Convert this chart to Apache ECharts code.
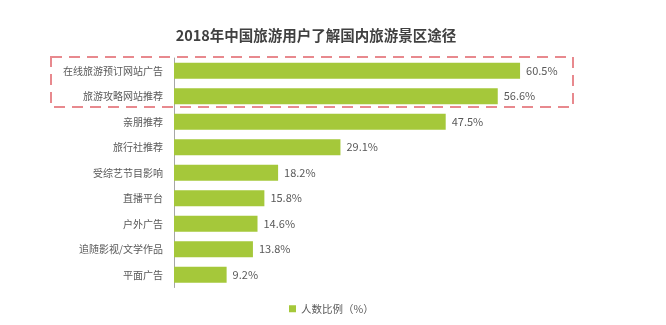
<!DOCTYPE html>
<html>
<head>
<meta charset="utf-8">
<script src="https://cdn.jsdelivr.net/npm/echarts@6/dist/echarts.min.js"></script>
<style>
  html, body { margin: 0; padding: 0; background: #fff; }
  #chart { width: 666px; height: 325px; }
</style>
</head>
<body>
<div id="chart"></div>
<script>
// Channels through which tourists learn about domestic scenic spots (2018)
const categories = [
  '在线旅游预订网站广告',
  '旅游攻略网站推荐',
  '亲朋推荐',
  '旅行社推荐',
  '受综艺节目影响',
  '直播平台',
  '户外广告',
  '追随影视/文学作品',
  '平面广告'
];
const shares = [60.5, 56.6, 47.5, 29.1, 18.2, 15.8, 14.6, 13.8, 9.2];
const seriesName = '人数比例（%）';
const titleText = '2018年中国旅游用户了解国内旅游景区途径';
// rows enclosed by the dashed highlight box
const highlighted = [0, 1];

const FONT = '"Microsoft YaHei", "Noto Sans CJK SC", sans-serif';
const chart = echarts.init(document.getElementById('chart'));

chart.setOption({
  backgroundColor: '#ffffff',
  animation: false,
  title: {
    text: titleText,
    left: 311,
    textAlign: 'center',
    top: 23,
    textStyle: { fontFamily: FONT, fontSize: 14.5, fontWeight: 'bold', color: '#404040' }
  },
  legend: {
    bottom: 6,
    left: 284,
    itemWidth: 7,
    itemHeight: 7,
    itemGap: 4,
    icon: 'rect',
    textStyle: { fontFamily: FONT, fontSize: 10.5, color: '#595959' },
    data: [seriesName]
  },
  grid: { left: 174, top: 58, width: 400.4, height: 229.5, containLabel: false },
  xAxis: {
    type: 'value',
    min: 0,
    max: 70,
    show: false
  },
  yAxis: {
    type: 'category',
    inverse: true,
    data: categories,
    axisLine: { show: true, lineStyle: { color: '#a6a6a6', width: 1 } },
    axisTick: { show: false },
    axisLabel: { fontFamily: FONT, fontSize: 10, color: '#595959', margin: 11 }
  },
  series: [{
    name: seriesName,
    type: 'bar',
    data: shares,
    barWidth: 16,
    itemStyle: { color: '#a5c83a' },
    label: {
      show: true,
      position: 'right',
      distance: 6,
      formatter: p => p.value.toFixed(1) + '%',
      fontFamily: FONT,
      fontSize: 11,
      color: '#595959'
    }
  }]
});

// Dashed highlight frame around the top rows, positioned from the axis scales
const rowHalf = 12.75;
const topY = chart.convertToPixel({ yAxisIndex: 0 }, highlighted[0]) - rowHalf;
const bottomY = chart.convertToPixel({ yAxisIndex: 0 }, highlighted[highlighted.length - 1]) + rowHalf;
chart.setOption({
  graphic: [{
    type: 'rect',
    silent: true,
    shape: { x: 51, y: topY - 1, width: 522, height: bottomY - topY - 1 },
    style: { fill: 'none', stroke: '#e8898e', lineWidth: 2, lineDash: [11, 7] },
    z: 10
  }]
});
</script>
</body>
</html>
